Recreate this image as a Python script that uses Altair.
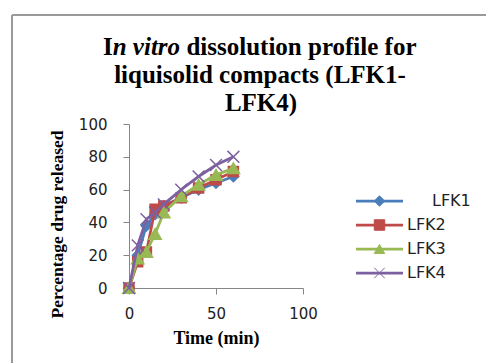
import altair as alt
import pandas as pd

# ---- data ----
times = [0, 5, 10, 15, 20, 30, 40, 50, 60]
lfk1 = [0, 20, 38, 45, 50, 55, 60, 64, 68]
lfk2 = [0, 16, 22, 48, 50, 55, 61, 66, 71]
lfk3 = [0, 18, 22, 33, 46, 56, 63, 69, 73]
lfk4 = [0, 26, 42, 46, 51, 60, 68, 75, 80]
series_names = ["LFK1", "LFK2", "LFK3", "LFK4"]
x_ticks = [0, 50, 100]
y_ticks = [0, 20, 40, 60, 80, 100]

# ---- styles ----
colors = ["#4A7EBB", "#BE4B48", "#98B954", "#7D60A0"]
shapes = ["diamond", "square", "triangle-up", "M-1,-1L1,1M-1,1L1,-1"]
sizes = [110, 100, 150, 140]

rows = []
for name, vals in zip(series_names, [lfk1, lfk2, lfk3, lfk4]):
    for t, v in zip(times, vals):
        rows.append({"series": name, "time": t, "value": v})
df = pd.DataFrame(rows)

color_scale = alt.Scale(domain=series_names, range=colors)
shape_scale = alt.Scale(domain=series_names, range=shapes)

x_enc = alt.X("time:Q", scale=alt.Scale(domain=[0, 100], nice=False),
              axis=alt.Axis(values=x_ticks, title="Time (min)"))
y_enc = alt.Y("value:Q", scale=alt.Scale(domain=[0, 100], nice=False),
              axis=alt.Axis(values=y_ticks, title="Percentage drug released"))
col = alt.Color("series:N", scale=color_scale, legend=None)
stk = alt.Stroke("series:N", scale=color_scale, legend=None)

data_layers = []
for i, name in enumerate(series_names):
    base = alt.Chart(df).transform_filter(alt.datum.series == name)
    data_layers.append(base.mark_line(strokeWidth=2.75).encode(x=x_enc, y=y_enc, color=col))
    data_layers.append(
        base.mark_point(shape=shapes[i], size=sizes[i], filled=True, opacity=1,
                        strokeWidth=1.5)
        .encode(x=x_enc, y=y_enc, color=col, stroke=stk)
    )
main = alt.layer(*data_layers)

# ---- custom legend ----
leg_df = pd.DataFrame({"series": series_names})
ly = alt.Y("series:N", scale=alt.Scale(type="point", domain=series_names, range=[65, 161]),
           axis=None)
leg_base = alt.Chart(leg_df)
leg_rule = leg_base.mark_rule(strokeWidth=2.75).encode(
    x=alt.value(227), x2=alt.value(274), y=ly, color=col)
leg_pts = leg_base.mark_point(filled=True, size=110, opacity=1, strokeWidth=1).encode(
    x=alt.value(250.5), y=ly, color=col, stroke=stk,
    shape=alt.Shape("series:N", scale=shape_scale, legend=None))
leg_txt = leg_base.transform_filter(alt.datum.series != "LFK1").mark_text(
    align="left", baseline="middle", font="DejaVu Sans", fontSize=16, color="#222"
).encode(x=alt.value(278), y=ly, text="series:N")
leg_txt1 = leg_base.transform_filter(alt.datum.series == "LFK1").mark_text(
    align="left", baseline="middle", font="DejaVu Sans", fontSize=16, color="#222"
).encode(x=alt.value(303), y=ly, text="series:N")
legend = alt.layer(leg_rule, leg_pts, leg_txt, leg_txt1)

# ---- frame and title ----
one = alt.Data(values=[{"k": 0}])
border_v = alt.Chart(one).mark_rule(color="#9A9A9A", strokeWidth=2).encode(
    x=alt.value(-117), y=alt.value(-109), y2=alt.value(239))
border_h = alt.Chart(one).mark_rule(color="#9A9A9A", strokeWidth=2).encode(
    x=alt.value(-117), x2=alt.value(357), y=alt.value(-109))

tfont = dict(font="Liberation Serif", fontWeight="bold", fontSize=25, color="#000",
             baseline="alphabetic")
t1a = alt.Chart(one).mark_text(text="I", align="left", **tfont).encode(
    x=alt.value(-26), y=alt.value(-69))
t1b = alt.Chart(one).mark_text(text="n vitro", align="left", fontStyle="italic", **tfont).encode(
    x=alt.value(-16.3), y=alt.value(-69))
t1c = alt.Chart(one).mark_text(text="dissolution profile for", align="left", **tfont).encode(
    x=alt.value(57.4), y=alt.value(-69))
t2 = alt.Chart(one).mark_text(text="liquisolid compacts (LFK1-", align="center", **tfont).encode(
    x=alt.value(131), y=alt.value(-41))
t3 = alt.Chart(one).mark_text(text="LFK4)", align="center", **tfont).encode(
    x=alt.value(132), y=alt.value(-13))

chart = alt.layer(
    main, legend, border_v, border_h, t1a, t1b, t1c, t2, t3
).resolve_scale(y="independent").properties(
    width=174, height=164,
    autosize=alt.AutoSizeParams(type="none"),
    padding={"left": 129, "top": 124, "right": 183, "bottom": 75},
    background="white",
).configure_view(stroke=None).configure_axis(
    grid=False, domainColor="#868686", tickColor="#868686", tickSize=6,
    labelFont="DejaVu Sans", labelFontSize=15, labelColor="#222", labelFlush=False,
    titleFont="Liberation Serif", titleFontWeight="bold", titleColor="#000",
).configure_axisY(
    labelPadding=16, titleFontSize=17.5, titleX=-67, titleY=100,
    titleBaseline="alphabetic", titleAngle=270,
).configure_axisX(
    labelPadding=12, titleFontSize=18, titleY=55, titleBaseline="alphabetic",
)

chart.save("out.html", embed_options={"renderer": "svg", "actions": False})
